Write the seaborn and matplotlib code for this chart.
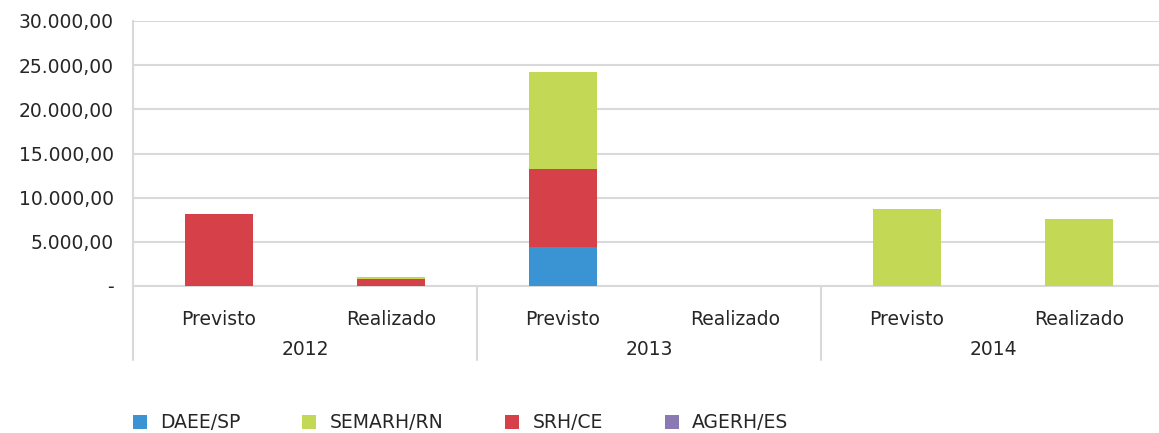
import matplotlib
matplotlib.use("Agg")
import matplotlib.pyplot as plt
from matplotlib.patches import Patch
from matplotlib.ticker import FuncFormatter
import numpy as np
import pandas as pd
import seaborn as sns

# Data
years = ["2012", "2013", "2014"]
kinds = ["Previsto", "Realizado"]
daee_sp = [0, 0, 4430, 0, 0, 0]
srh_ce = [8100, 820, 8770, 0, 0, 0]
semarh_rn = [0, 150, 10970, 0, 8760, 7560]
agerh_es = [0, 0, 0, 0, 0, 0]

series_names = ["DAEE/SP", "SEMARH/RN", "SRH/CE", "AGERH/ES"]
colors = {"DAEE/SP": "#3A93D3", "SEMARH/RN": "#C3D955",
          "SRH/CE": "#D64048", "AGERH/ES": "#8B79B3"}

labels = [f"{y}-{k}" for y in years for k in kinds]
df = pd.DataFrame({"cat": labels, "DAEE/SP": daee_sp, "SRH/CE": srh_ce,
                   "SEMARH/RN": semarh_rn, "AGERH/ES": agerh_es})

# stacking order from bottom to top
stack = ["DAEE/SP", "SRH/CE", "SEMARH/RN", "AGERH/ES"]
cum = df[stack].cumsum(axis=1)

sns.set_theme(style="white")
plt.rcParams["font.family"] = ["DejaVu Sans"]
text_color = "#262626"
grid_color = "#D9D9D9"
fs = 13.5

fig = plt.figure(figsize=(11.59, 4.33), dpi=100)
ax = fig.add_axes([133 / 1159, (433 - 286) / 433, 1032 / 1159, 265 / 433])

# draw cumulative totals from the top layer downwards
for name in reversed(stack):
    sns.barplot(x=df["cat"], y=cum[name], color=colors[name], width=0.4,
                saturation=1, ax=ax, zorder=3, linewidth=0)

ax.set_ylim(0, 30000)
ax.set_xlim(-0.5, 5.5)
ax.set_yticks(np.arange(0, 30001, 5000))


def fmt(v, _):
    if v == 0:
        return "-"
    return f"{v:,.2f}".replace(",", "X").replace(".", ",").replace("X", ".")


ax.yaxis.set_major_formatter(FuncFormatter(fmt))
ax.grid(axis="y", color=grid_color, linewidth=1.5, zorder=0)
ax.set_axisbelow(True)
for side in ["top", "right"]:
    ax.spines[side].set_visible(False)
ax.spines["left"].set_color(grid_color)
ax.spines["left"].set_linewidth(1.5)
ax.spines["bottom"].set_color(grid_color)
ax.spines["bottom"].set_linewidth(1.5)
ax.set_xlabel("")
ax.set_ylabel("")

ax.set_xticks(range(6))
ax.set_xticklabels(kinds * 3)
ax.tick_params(axis="x", length=0, pad=17, labelsize=fs, colors=text_color)
ax.tick_params(axis="y", length=0, pad=14, labelsize=fs, colors=text_color)

# year labels and group separators
trans = ax.get_xaxis_transform()
for i, y in enumerate(years):
    ax.text(2 * i + 0.5, -0.24, y, transform=trans, ha="center", va="center",
            fontsize=fs, color=text_color)
for xb in [-0.5, 1.5, 3.5, 5.5]:
    ax.plot([xb, xb], [0, -0.28], transform=trans, color=grid_color,
            linewidth=1.5, clip_on=False)

handles = [Patch(facecolor=colors[n], edgecolor="none") for n in series_names]
fig.legend(handles, series_names, loc="center left",
           bbox_to_anchor=(116 / 1159, 1 - 423 / 433), ncol=4, frameon=False,
           fontsize=fs, handlelength=0.75, handleheight=0.75,
           handletextpad=0.7, columnspacing=3.3, labelcolor=text_color)

fig.savefig("out.png", dpi=100)
